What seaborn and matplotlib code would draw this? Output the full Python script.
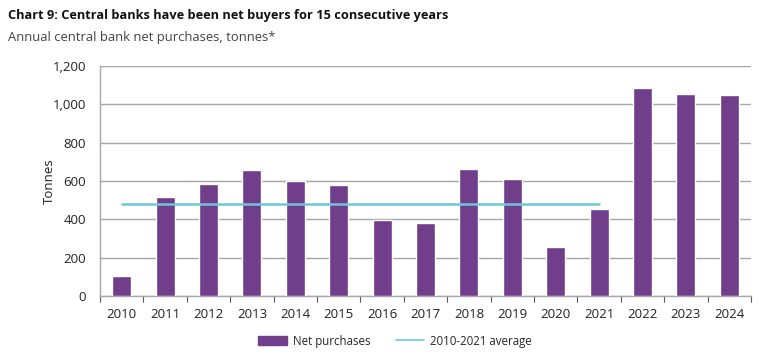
import matplotlib
matplotlib.use("Agg")
import matplotlib.pyplot as plt
import matplotlib.ticker as mticker
from matplotlib.patches import Patch
from matplotlib.lines import Line2D
import numpy as np
import pandas as pd
import seaborn as sns

# ---------------------------------------------------------------------------
# Data
# ---------------------------------------------------------------------------
years = ["2010", "2011", "2012", "2013", "2014", "2015", "2016", "2017",
         "2018", "2019", "2020", "2021", "2022", "2023", "2024"]
net_purchases = [106, 518, 585, 655, 602, 580, 398, 380,
                 662, 610, 257, 454, 1085, 1055, 1050]
avg_years = years[:12]
avg_value = 481

BAR = "#703E8A"
LINE = "#6EC6DC"
GRID = "#A6A6A6"

sns.set_theme(style="white")
plt.rcParams["font.family"] = ["Open Sans", "DejaVu Sans"]

df = pd.DataFrame({"year": years, "tonnes": net_purchases})

fig = plt.figure(figsize=(7.72, 3.62), dpi=100)
ax = fig.add_axes([100 / 772, 1 - 296 / 362, 651 / 772, 230 / 362])

sns.barplot(data=df, x="year", y="tonnes", color=BAR, saturation=1,
            width=0.44, ax=ax, zorder=3)
sns.lineplot(x=avg_years, y=[avg_value] * len(avg_years), color=LINE,
             linewidth=1.8, ax=ax, zorder=4)

ax.set_xlim(-0.5, len(years) - 0.5)
ax.set_ylim(0, 1200)
ax.yaxis.set_major_locator(mticker.MultipleLocator(200))
ax.yaxis.set_major_formatter(mticker.StrMethodFormatter("{x:,.0f}"))
ax.grid(axis="y", color=GRID, linewidth=1.0, zorder=0)
ax.set_axisbelow(True)

for side in ["top", "right"]:
    ax.spines[side].set_visible(False)
for side in ["left", "bottom"]:
    ax.spines[side].set_color(GRID)
    ax.spines[side].set_linewidth(1.0)

# tick marks sit between the categories
ax.set_xticks(np.arange(-0.5, len(years), 1.0), minor=True)
ax.tick_params(axis="x", which="minor", bottom=True, length=4, color="#555555", width=0.8)
ax.tick_params(axis="x", which="major", bottom=False, pad=3, labelsize=9.5, colors="#222222")
ax.tick_params(axis="y", left=False, pad=4, labelsize=9.5, colors="#222222")

ax.set_xlabel("")
ax.set_ylabel("Tonnes", fontsize=9.5, color="#222222", labelpad=-2)

fig.text(8 / 772, 1 - 15 / 362, "Chart 9: Central banks have been net buyers for 15 consecutive years",
         fontsize=9.2, fontweight="bold", color="#111111", va="center")
fig.text(8 / 772, 1 - 38 / 362, "Annual central bank net purchases, tonnes*",
         fontsize=9.4, color="#444444", va="center")

handles = [Patch(facecolor=BAR, edgecolor=BAR),
           Line2D([0], [0], color=LINE, linewidth=1.2)]
fig.legend(handles, ["Net purchases", "2010-2021 average"],
           loc="center", bbox_to_anchor=(395 / 772, 1 - 341 / 362), ncol=2,
           frameon=False, fontsize=8.3, handlelength=2.5, handleheight=0.7,
           handletextpad=0.5, columnspacing=2.2)

fig.savefig("out.png", dpi=100)
